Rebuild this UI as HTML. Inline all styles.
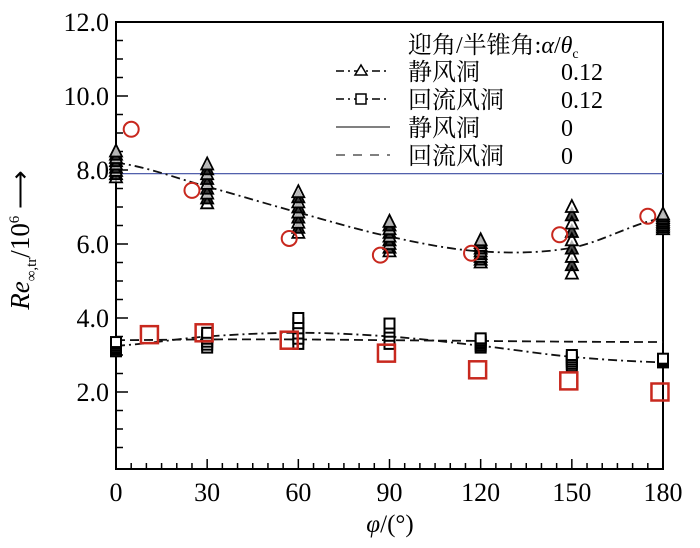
<!DOCTYPE html>
<html><head><meta charset="utf-8">
<style>
body{margin:0;background:#fff;}
svg{display:block;font-family:"Liberation Serif","Noto Serif CJK SC",serif;}
</style></head>
<body>
<svg id="chart" width="700" height="548" viewBox="0 0 700 548" xmlns="http://www.w3.org/2000/svg"></svg>
<script>
const xTicks=[0,30,60,90,120,150,180];
const yTicks=[2,4,6,8,10,12];
const yTickLabels=["2.0","4.0","6.0","8.0","10.0","12.0"];
const triAngles=[0,30,60,90,120,150,180];
const triMin=[7.8,7.1,6.3,5.8,5.5,5.2,6.4];
const triMax=[8.5,8.15,7.4,6.6,6.1,7.0,6.8];
const sqAngles=[0,30,60,90,120,150,180];
const sqMin=[3.1,3.2,3.3,3.3,3.2,2.7,2.8];
const sqMax=[3.35,3.6,4.0,3.85,3.45,3.0,2.9];
const triFit=[8.2,7.55,6.85,6.2,5.8,5.9,6.7];
const sqFit=[3.25,3.5,3.6,3.5,3.25,2.95,2.8];
const dashFit=[3.4,3.42,3.42,3.4,3.38,3.36,3.35];
const circX=[5,25,57,87,117,146,175];
const circY=[9.1,7.45,6.15,5.7,5.75,6.25,6.75];
const redSqX=[11,29,57,89,119,149,179];
const redSqY=[3.55,3.6,3.4,3.05,2.6,2.3,2.0];
const blueLine=7.9;

const NS="http://www.w3.org/2000/svg";
const svg=document.getElementById('chart');
const X=v=>116+v*(663-116)/180;
const Y=v=>466-37*v;
function mk(tag,attrs,parent){const e=document.createElementNS(NS,tag);for(const k in attrs)e.setAttribute(k,attrs[k]);(parent||svg).appendChild(e);return e;}

let e=mk('rect',{x:116,y:22,width:547,height:447,fill:'none',stroke:'#000','stroke-width':2});


for(let a=0;a<=180;a+=5){
  const major=a%30===0;
  e=mk('line',{x1:X(a),x2:X(a),y1:469,y2:major?459:463,stroke:'#000','stroke-width':1.5});
  
  
}
xTicks.forEach(t=>{
  e=mk('text',{x:X(t),y:501,'font-size':26,'text-anchor':'middle'});e.textContent=t;
  
  
});
for(let v=0.5;v<12;v+=0.5){
  const major=Math.abs(v%2)<1e-6;
  e=mk('line',{x1:116,x2:major?128:123,y1:Y(v),y2:Y(v),stroke:'#000','stroke-width':1.5});
  
  
}
yTicks.forEach((t,i)=>{
  e=mk('text',{x:109,y:Y(t)+9,'font-size':26,'text-anchor':'end'});e.textContent=yTickLabels[i];
  
  
});
e=mk('text',{x:390,y:532,'font-size':25,'text-anchor':'middle','font-style':'italic'});
e.innerHTML='φ<tspan font-style="normal">/(°)</tspan>';


e=mk('text',{x:0,y:0,'font-size':27,'text-anchor':'middle',transform:'translate(29,240) rotate(-90)'});
e.innerHTML='<tspan font-style="italic">Re</tspan><tspan font-size="15" dy="7">∞,tr</tspan><tspan dy="-7">/10</tspan><tspan font-size="15" dy="-10">6</tspan><tspan dy="10"> ⟶</tspan>';


e=mk('line',{x1:116,x2:663,y1:Y(blueLine),y2:Y(blueLine),stroke:'#3a4aa0','stroke-width':1.2});


function curve(xs,ys,dash,name){
  let d='';
  for(let i=0;i<xs.length;i++){
    const px=X(xs[i]),py=Y(ys[i]);
    if(i===0)d+='M'+px+','+py;
    else{const p0x=X(xs[i-1]),p0y=Y(ys[i-1]);
      const pm=i>1?Y(ys[i-2]):p0y, pn=i<xs.length-1?Y(ys[i+1]):py;
      const c1y=p0y+(py-pm)/6, c2y=py-(pn-p0y)/6;
      d+=` C${p0x+(px-p0x)/3},${c1y} ${px-(px-p0x)/3},${c2y} ${px},${py}`;}
  }
  const p=mk('path',{d:d,fill:'none',stroke:'#111','stroke-width':1.8,'stroke-dasharray':dash});
  
  
}
curve(triAngles,triFit,'9 4 2 4','static-tunnel-fit-curve');
curve(sqAngles,sqFit,'9 4 2 4','return-tunnel-fit-curve');
curve(sqAngles,dashFit,'9 5','return-tunnel-zero-line');
triAngles.forEach((a,i)=>{
  const n=9;
  for(let k=0;k<n;k++){
    const v=triMin[i]+(triMax[i]-triMin[i])*k/(n-1);
    const cx=X(a),cy=Y(v);
    e=mk('path',{d:`M${cx},${cy-7} L${cx+6},${cy+5} L${cx-6},${cy+5} Z`,fill:(k>0&&k<n-1&&k%2)?'#000':'#fff','fill-opacity':0.7,stroke:'#000','stroke-width':1.8});
    
    
  }
});
sqAngles.forEach((a,i)=>{
  const n=6;
  for(let k=0;k<n;k++){
    const v=sqMin[i]+(sqMax[i]-sqMin[i])*k/(n-1);
    e=mk('rect',{x:X(a)-5,y:Y(v)-5,width:10,height:10,fill:'#fff',stroke:'#000','stroke-width':2});
    
    
  }
});
circX.forEach((a,i)=>{
  e=mk('circle',{cx:X(a),cy:Y(circY[i]),r:7.5,fill:'none',stroke:'#c8281e','stroke-width':2});
  
  
});
redSqX.forEach((a,i)=>{
  e=mk('rect',{x:X(a)-8.5,y:Y(redSqY[i])-8.5,width:17,height:17,fill:'none',stroke:'#c8281e','stroke-width':2.5});
  
  
});
const lg=mk('g',{});


const cjk='"Liberation Serif","Noto Serif CJK SC",serif';
e=mk('text',{x:408,y:53,'font-size':24,'font-family':cjk},lg);
e.innerHTML='迎角/半锥角:<tspan font-style="italic">α</tspan>/<tspan font-style="italic">θ</tspan><tspan font-size="14" dy="5">c</tspan>';


const rows=[['静风洞','0.12','tri'],['回流风洞','0.12','sq'],['静风洞','0','solid'],['回流风洞','0','dash']];
rows.forEach((r,i)=>{
  const y=80+i*28;
  const ly=y-9;
  if(r[2]==='tri'||r[2]==='sq'){
    mk('line',{x1:336,x2:390,y1:ly,y2:ly,stroke:'#000','stroke-width':1.5,'stroke-dasharray':'8 4 2 4'},lg);
    if(r[2]==='tri')mk('path',{d:`M361,${ly-6} L367,${ly+4} L355,${ly+4} Z`,fill:'#fff',stroke:'#000','stroke-width':1.5},lg);
    else mk('rect',{x:356,y:ly-5,width:10,height:10,fill:'#fff',stroke:'#000','stroke-width':1.5},lg);
  }else if(r[2]==='solid'){
    mk('line',{x1:336,x2:390,y1:ly,y2:ly,stroke:'#000','stroke-width':1},lg);
  }else{
    mk('line',{x1:336,x2:390,y1:ly,y2:ly,stroke:'#000','stroke-width':1,'stroke-dasharray':'9 8'},lg);
  }
  e=mk('text',{x:408,y:y,'font-size':24,'font-family':cjk},lg);e.textContent=r[0];
  
  
  e=mk('text',{x:561,y:y,'font-size':24},lg);e.textContent=r[1];
  
  
});
</script>
</body></html>
